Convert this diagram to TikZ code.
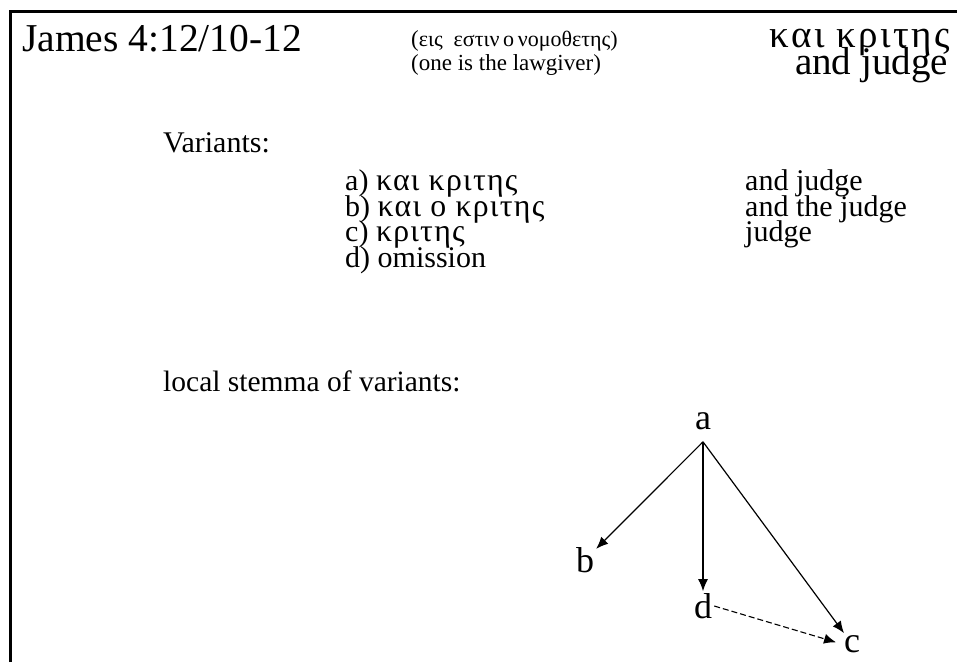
\documentclass[tikz,border=0pt]{standalone}
\usepackage{fontspec}
\setmainfont{Liberation Serif}
\newfontfamily\grk[Scale=1.06,LetterSpace=4]{Liberation Serif}
\newfontfamily\grkhd[LetterSpace=6]{Liberation Serif}
\usetikzlibrary{arrows.meta}
\begin{document}
\begin{tikzpicture}[x=1pt,y=-1pt,
  txt/.style={inner sep=0pt,anchor=base west},
  tight/.style={execute at begin node={\lineskiplimit=-100pt\lineskip=0pt}},
  big/.style={font=\fontsize{39}{40}\selectfont},
  mid/.style={font=\fontsize{23}{26}\selectfont},
  body/.style={font=\fontsize{30}{25.7}\selectfont},
  lett/.style={inner sep=2pt,font=\fontsize{36}{40}\selectfont},
  arr/.style={line width=1.2pt,-{Latex[length=12pt,width=10pt]}},
  darr/.style={line width=1.1pt,dash pattern=on 6pt off 3pt,-{Latex[length=12pt,width=10pt]}},
  frame/.style={line width=3pt}]
\useasboundingbox (0,0) rectangle (957,662);
\draw[frame] (10.5,662) -- (10.5,11.5) -- (957,11.5);
% header
\node[txt,font=\fontsize{39.5}{40}\selectfont] (ref) at (22,51) {James 4:12/10-12};
\node[txt,mid] (gr) at (411,46) {(\fontsize{22}{26}\selectfont εις\ \ εστιν\,ο\,νομοθετης)};
\node[txt,mid] (en) at (411,70) {(one is the lawgiver)};
\node[txt,big,anchor=base east] (hgr) at (950,47) {\grkhd και κριτης};
\node[txt,big,anchor=base east] (hen) at (948,74) {and judge};
% variants
\node[txt,body] (var) at (163,152) {Variants:};
\node[txt,body,tight,anchor=north west,align=left] (vlist) at (345,169.3)
  {a) {\grk και κριτης}\\b) {\grk και ο κριτης}\\c) {\grk κριτης}\\d) omission};
\node[txt,body,tight,anchor=north west,align=left] (tlist) at (745,169.5)
  {and judge\\and the judge\\judge};
\node[txt,font=\fontsize{29.5}{32}\selectfont] (loc) at (163,391) {local stemma of variants:};
% stemma
\node[lett] (a) at (703,421) {a};
\node[lett] (b) at (585,560) {b};
\node[lett] (d) at (703,606) {d};
\node[lett] (c) at (852,644) {c};
\coordinate (apex) at ([yshift=-10pt]a.south);
\draw[arr] (apex) -- (b);
\draw[arr] (apex) -- (d);
\draw[arr] (apex) -- (c);
\draw[darr,shorten >=6pt] (d.east) -- (c.west);
\end{tikzpicture}
\end{document}
